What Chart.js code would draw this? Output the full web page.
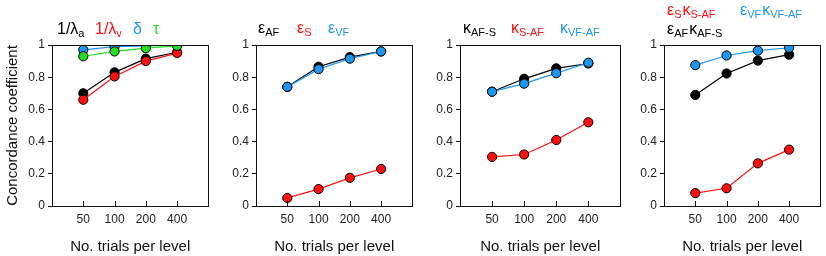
<!DOCTYPE html>
<html>
<head>
<meta charset="utf-8">
<script src="https://cdn.jsdelivr.net/npm/chart.js@4"></script>
<style>
  body { margin: 0; background: #fff; }
  #wrap { position: relative; width: 826px; height: 256px; overflow: hidden; }
  .panel { position: absolute; top: 0; height: 256px; }
</style>
</head>
<body>
<div id="wrap">
  <div class="panel" style="left:0;width:214px"><canvas id="c1"></canvas></div>
  <div class="panel" style="left:214px;width:204px"><canvas id="c2"></canvas></div>
  <div class="panel" style="left:418px;width:208px"><canvas id="c3"></canvas></div>
  <div class="panel" style="left:622px;width:204px"><canvas id="c4"></canvas></div>
</div>
<script>
// x positions 1..4 on a 0..5 axis, labelled with trial counts
const trials = ['50', '100', '200', '400'];

// panel 1
const invLambdaA = [0.70, 0.83, 0.915, 0.955];
const invLambdaV = [0.66, 0.805, 0.90, 0.95];
const delta = [0.97, 0.99, 0.995, 1.0];
const tau = [0.93, 0.96, 0.98, 0.995];

// panel 2
const epsAF = [0.74, 0.865, 0.925, 0.96];
const epsS = [0.05, 0.105, 0.175, 0.23];
const epsVF = [0.74, 0.85, 0.915, 0.96];

// panel 3
const kapAFS = [0.71, 0.79, 0.855, 0.885];
const kapSAF = [0.305, 0.32, 0.41, 0.52];
const kapVFAF = [0.71, 0.76, 0.825, 0.89];

// panel 4
const ekS = [0.08, 0.11, 0.265, 0.35];
const ekVF = [0.875, 0.935, 0.965, 0.983];
const ekAF = [0.69, 0.823, 0.903, 0.94];

const BLACK = '#000000', RED = '#ff1010', BLUE = '#1e96f0', GREEN = '#20e020';
const FONT = "'Liberation Sans', Arial, sans-serif";

function series(values, color) {
    return {
        data: values.map((v, i) => ({x: i + 1, y: v})),
        borderColor: color,
        backgroundColor: color,
        borderWidth: 1.2,
        pointRadius: 4.6,
        pointBorderColor: '#000',
        pointBorderWidth: 1,
        pointBackgroundColor: color,
        tension: 0
    }
}

// frame + inward x ticks + greek labels
const decor = {
    id: 'decor',
    afterDraw(chart, args, opts) {
        const ctx = chart.ctx, a = chart.chartArea;
        ctx.save();
        ctx.strokeStyle = '#111';
        ctx.lineWidth = 1;
        ctx.strokeRect(Math.round(a.left) + 0.5, Math.round(a.top) + 0.5,
            Math.round(a.right - a.left), Math.round(a.bottom - a.top));
        const xs = chart.scales.x;
        ctx.beginPath();
        for (let i = 1; i <= trials.length; i++) {
            let px = Math.round(xs.getPixelForValue(i)) + 0.5;
            ctx.moveTo(px, a.bottom);
            ctx.lineTo(px, a.bottom - 5);
        }
        ctx.stroke();

        // labels: each item is a list of [text, isSub]
        ctx.textBaseline = 'alphabetic';
        for (const item of (opts.items || [])) {
            let x = item.x - chart.canvas.offsetParent.offsetLeft;
            ctx.fillStyle = item.color;
            for (const [txt, sub] of item.parts) {
                ctx.font = (sub ? '11px ' : '16px ') + FONT;
                ctx.fillText(txt, x, item.y + (sub ? 3 : 0));
                x += ctx.measureText(txt).width + (sub ? 1 : 0);
            }
        }
        ctx.restore();
    }
}

function makeChart(id, datasets, items, yWidth, showYTitle) {
    return new Chart(document.getElementById(id), {
        type: 'line',
        data: {datasets: datasets},
        options: {
            responsive: true,
            maintainAspectRatio: false,
            animation: false,
            layout: {padding: {top: 45, right: 4, left: 0, bottom: 0}},
            plugins: {legend: {display: false}, tooltip: {enabled: false}, decor: {items: items}},
            scales: {
                x: {
                    type: 'linear', min: 0, max: 5,
                    afterBuildTicks: s => { s.ticks = trials.map((t, i) => ({value: i + 1})) },
                    afterFit: s => { s.height = 50 },
                    grid: {display: false, drawTicks: false},
                    border: {display: false},
                    ticks: {
                        padding: 6, color: '#222', font: {family: FONT, size: 12},
                        maxRotation: 0, autoSkip: false,
                        callback: (v) => trials[v - 1]
                    },
                    title: {display: true, text: 'No. trials per level', color: '#111',
                        font: {family: FONT, size: 15}, padding: {top: 8, bottom: 0}}
                },
                y: {
                    min: 0, max: 1,
                    afterFit: s => { s.width = yWidth },
                    grid: {drawOnChartArea: false, tickLength: 4, color: '#111'},
                    border: {display: false},
                    ticks: {stepSize: 0.2, padding: 3, color: '#222', font: {family: FONT, size: 12},
                        callback: v => (Math.round(v * 10) / 10).toString()},
                    title: {display: showYTitle, text: 'Concordance coefficient', color: '#111',
                        font: {family: FONT, size: 15}, padding: {top: 4, bottom: 0}}
                }
            }
        },
        plugins: [decor]
    });
}

makeChart('c1',
    [series(tau, GREEN), series(invLambdaV, RED), series(delta, BLUE), series(invLambdaA, BLACK)],
    [
        {x: 57, y: 34, color: BLACK, parts: [['1/λ', 0], ['a', 1]]},
        {x: 95, y: 34, color: RED, parts: [['1/λ', 0], ['v', 1]]},
        {x: 133, y: 34, color: BLUE, parts: [['δ', 0]]},
        {x: 153, y: 34, color: GREEN, parts: [['τ', 0]]}
    ], 52, true);

makeChart('c2',
    [series(epsVF, BLUE), series(epsAF, BLACK), series(epsS, RED)],
    [
        {x: 258, y: 33, color: BLACK, parts: [['ε', 0], ['AF', 1]]},
        {x: 297, y: 33, color: RED, parts: [['ε', 0], ['S', 1]]},
        {x: 328, y: 33, color: BLUE, parts: [['ε', 0], ['VF', 1]]}
    ], 42, false);

makeChart('c3',
    [series(kapVFAF, BLUE), series(kapAFS, BLACK), series(kapSAF, RED)],
    [
        {x: 463, y: 33, color: BLACK, parts: [['κ', 0], ['AF-S', 1]]},
        {x: 511, y: 33, color: RED, parts: [['κ', 0], ['S-AF', 1]]},
        {x: 560, y: 33, color: BLUE, parts: [['κ', 0], ['VF-AF', 1]]}
    ], 42, false);

makeChart('c4',
    [series(ekVF, BLUE), series(ekAF, BLACK), series(ekS, RED)],
    [
        {x: 667, y: 15, color: RED, parts: [['ε', 0], ['S', 1], ['κ', 0], ['S-AF', 1]]},
        {x: 740, y: 15, color: BLUE, parts: [['ε', 0], ['VF', 1], ['κ', 0], ['VF-AF', 1]]},
        {x: 667, y: 34, color: BLACK, parts: [['ε', 0], ['AF', 1], ['κ', 0], ['AF-S', 1]]}
    ], 42, false);
</script>
</body>
</html>
